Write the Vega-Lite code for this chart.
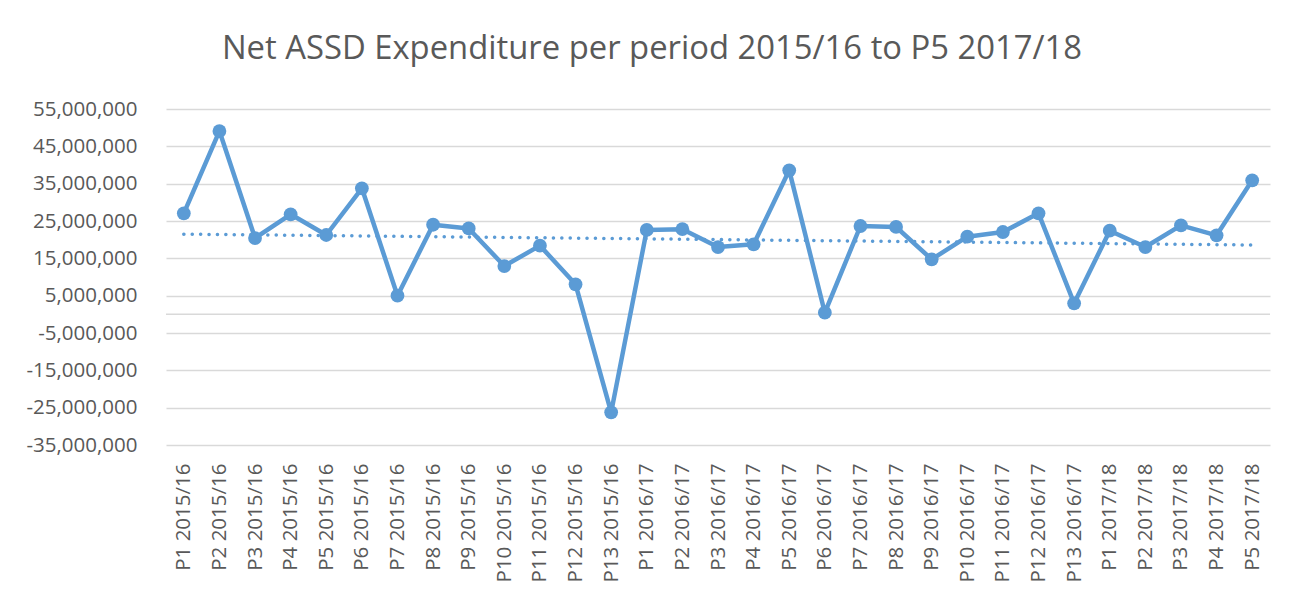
{
  "$schema": "https://vega.github.io/schema/vega-lite/v6.json",
  "autosize": "none",
  "width": 1104,
  "height": 336,
  "padding": {"left": 166, "top": 109, "right": 21, "bottom": 150},
  "background": "white",
  "title": {
    "text": "Net ASSD Expenditure per period 2015/16 to P5 2017/18",
    "font": "Open Sans",
    "fontSize": 32.8,
    "fontWeight": "normal",
    "color": "#595959",
    "anchor": "middle",
    "dx": -66,
    "offset": 33
  },
  "config": {
    "view": {"stroke": null},
    "axis": {
      "labelFont": "Open Sans",
      "labelFontSize": 20.5,
      "labelColor": "#595959",
      "labelOverlap": false,
      "domain": false,
      "ticks": false,
      "title": null
    }
  },
  "datasets": {
    "periods": [
      {"idx": 1, "period": "P1 2015/16", "value": 27050000},
      {"idx": 2, "period": "P2 2015/16", "value": 49100000},
      {"idx": 3, "period": "P3 2015/16", "value": 20440000},
      {"idx": 4, "period": "P4 2015/16", "value": 26800000},
      {"idx": 5, "period": "P5 2015/16", "value": 21250000},
      {"idx": 6, "period": "P6 2015/16", "value": 33750000},
      {"idx": 7, "period": "P7 2015/16", "value": 5000000},
      {"idx": 8, "period": "P8 2015/16", "value": 24000000},
      {"idx": 9, "period": "P9 2015/16", "value": 23000000},
      {"idx": 10, "period": "P10 2015/16", "value": 12940000},
      {"idx": 11, "period": "P11 2015/16", "value": 18400000},
      {"idx": 12, "period": "P12 2015/16", "value": 8040000},
      {"idx": 13, "period": "P13 2015/16", "value": -26250000},
      {"idx": 14, "period": "P1 2016/17", "value": 22600000},
      {"idx": 15, "period": "P2 2016/17", "value": 22800000},
      {"idx": 16, "period": "P3 2016/17", "value": 18030000},
      {"idx": 17, "period": "P4 2016/17", "value": 18750000},
      {"idx": 18, "period": "P5 2016/17", "value": 38570000},
      {"idx": 19, "period": "P6 2016/17", "value": 440000},
      {"idx": 20, "period": "P7 2016/17", "value": 23660000},
      {"idx": 21, "period": "P8 2016/17", "value": 23400000},
      {"idx": 22, "period": "P9 2016/17", "value": 14730000},
      {"idx": 23, "period": "P10 2016/17", "value": 20800000},
      {"idx": 24, "period": "P11 2016/17", "value": 22050000},
      {"idx": 25, "period": "P12 2016/17", "value": 27050000},
      {"idx": 26, "period": "P13 2016/17", "value": 2950000},
      {"idx": 27, "period": "P1 2017/18", "value": 22400000},
      {"idx": 28, "period": "P2 2017/18", "value": 18030000},
      {"idx": 29, "period": "P3 2017/18", "value": 23840000},
      {"idx": 30, "period": "P4 2017/18", "value": 21160000},
      {"idx": 31, "period": "P5 2017/18", "value": 35900000}
    ]
  },
  "data": {"name": "periods"},
  "layer": [
    {
      "transform": [{"filter": "datum.idx == 1"}],
      "mark": {"type": "rule", "color": "#d9d9d9", "strokeWidth": 1.5},
      "encoding": {
        "y": {
          "datum": 0,
          "type": "quantitative",
          "scale": {"domain": [-35000000, 55000000], "nice": false, "zero": false}
        }
      }
    },
    {
      "transform": [
        {"regression": "value", "on": "idx"},
        {"lookup": "idx", "from": {"data": {"name": "periods"}, "key": "idx", "fields": ["period"]}}
      ],
      "mark": {"type": "line", "color": "#5b9bd5", "strokeWidth": 3.5, "strokeDash": [0.1, 8.3], "strokeCap": "round"},
      "encoding": {
        "x": {
          "field": "period",
          "type": "nominal",
          "scale": {"type": "point", "padding": 0.5, "domain": ["P1 2015/16","P2 2015/16","P3 2015/16","P4 2015/16","P5 2015/16","P6 2015/16","P7 2015/16","P8 2015/16","P9 2015/16","P10 2015/16","P11 2015/16","P12 2015/16","P13 2015/16","P1 2016/17","P2 2016/17","P3 2016/17","P4 2016/17","P5 2016/17","P6 2016/17","P7 2016/17","P8 2016/17","P9 2016/17","P10 2016/17","P11 2016/17","P12 2016/17","P13 2016/17","P1 2017/18","P2 2017/18","P3 2017/18","P4 2017/18","P5 2017/18"]},
          "axis": {"labelAngle": 270, "labelPadding": 18, "grid": false}
        },
        "y": {
          "field": "value",
          "type": "quantitative",
          "scale": {"domain": [-35000000, 55000000], "nice": false, "zero": false},
          "axis": {
            "values": [-35000000, -25000000, -15000000, -5000000, 5000000, 15000000, 25000000, 35000000, 45000000, 55000000],
            "tickCount": 20,
            "labelExpr": "replace(format(datum.value, ','), '\u2212', '-')",
            "grid": true,
            "gridColor": "#d9d9d9",
            "gridWidth": 1.5,
            "labelPadding": 29
          }
        }
      }
    },
    {
      "mark": {"type": "line", "color": "#5b9bd5", "strokeWidth": 4.5, "strokeJoin": "round", "point": {"filled": true, "size": 190, "color": "#5b9bd5", "opacity": 1}},
      "encoding": {
        "x": {"field": "period", "type": "nominal"},
        "y": {"field": "value", "type": "quantitative"}
      }
    }
  ]
}
